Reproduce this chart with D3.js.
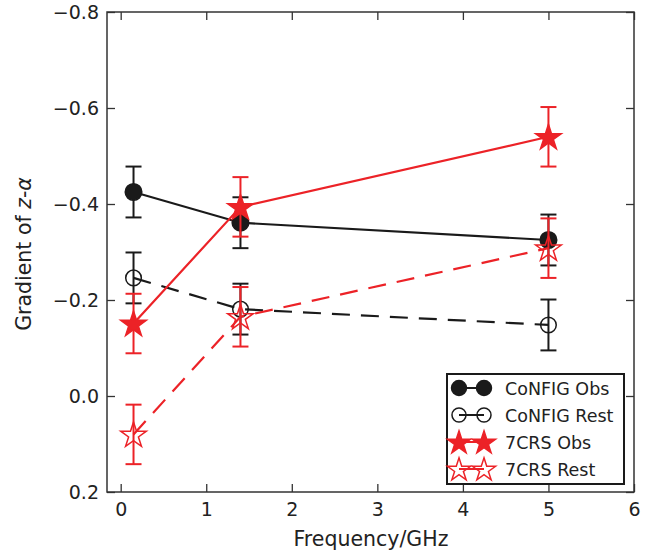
<!DOCTYPE html>
<html lang="en">
<head>
<meta charset="UTF-8">
<title>Gradient of z-alpha</title>
<style>
body { margin: 0; background: #fff; }
text { font-family: "DejaVu Sans", sans-serif; fill: #222; }
</style>
</head>
<body>
<script src="https://d3js.org/d3.v7.min.js"></script>
<script>
// data
var freq = [0.15, 1.4, 5.0];
var configObs = [-0.425, -0.361, -0.325];
var configObsErr = [0.053, 0.053, 0.053];
var configRest = [-0.246, -0.181, -0.148];
var configRestErr = [0.053, 0.053, 0.053];
var crsObs = [-0.151, -0.394, -0.540];
var crsObsErr = [0.062, 0.062, 0.062];
var crsRest = [0.080, -0.165, -0.308];
var crsRestErr = [0.062, 0.062, 0.062];
var xTicks = [0, 1, 2, 3, 4, 5, 6];
var yTicks = [-0.8, -0.6, -0.4, -0.2, 0.0, 0.2];

var width = 654, height = 551;
var red = "#ec2227", black = "#1a1a1a";

var svg = d3.select("body").append("svg")
    .attr("width", width).attr("height", height);

var x = d3.scaleLinear().domain([-0.16, 6]).range([107, 634]);
var y = d3.scaleLinear().domain([-0.8, 0.2]).range([12, 492]);

var fmtY = function(d) { return d3.format(".1f")(d).replace("-", "\u2212"); };

// mirrored inward ticks
var g = svg.append("g");
g.append("g").attr("transform", "translate(0," + y(0.2) + ")")
  .call(d3.axisBottom(x).tickValues(xTicks).tickSize(-8).tickPadding(11).tickFormat(d3.format("d")));
g.append("g").attr("transform", "translate(0," + y(-0.8) + ")")
  .call(d3.axisTop(x).tickValues(xTicks).tickSize(-8).tickFormat(""));
g.append("g").attr("transform", "translate(" + x.range()[0] + ",0)")
  .call(d3.axisLeft(y).tickValues(yTicks).tickSize(-8).tickPadding(8).tickFormat(fmtY));
g.append("g").attr("transform", "translate(" + x.range()[1] + ",0)")
  .call(d3.axisRight(y).tickValues(yTicks).tickSize(-8).tickFormat(""));
g.selectAll(".domain").remove();
g.selectAll(".tick line").attr("stroke", "#333").attr("stroke-width", 1.3);
g.selectAll(".tick text").attr("font-size", 19).attr("fill", "#222")
  .attr("font-family", "DejaVu Sans, sans-serif");

svg.append("rect")
  .attr("x", x.range()[0]).attr("y", y(-0.8))
  .attr("width", x.range()[1] - x.range()[0]).attr("height", y(0.2) - y(-0.8))
  .attr("fill", "none").attr("stroke", "#333").attr("stroke-width", 1.5);

// axis labels
svg.append("text").attr("x", 371).attr("y", 546).attr("text-anchor", "middle")
  .attr("font-size", 20.5).text("Frequency/GHz");
var yl = svg.append("text").attr("transform", "translate(31,254) rotate(-90)")
  .attr("text-anchor", "middle").attr("font-size", 20.5);
yl.append("tspan").text("Gradient of ");
yl.append("tspan").attr("font-style", "italic").text("z");
yl.append("tspan").text("-");
yl.append("tspan").attr("font-style", "italic").text("\u03b1");

var star = d3.symbol().type(d3.symbolStar);

var series = [
  {name: "CoNFIG Obs", vals: configObs, err: configObsErr, color: black, dash: null, marker: "circle", fill: true},
  {name: "CoNFIG Rest", vals: configRest, err: configRestErr, color: black, dash: "18,11", marker: "circle", fill: false},
  {name: "7CRS Obs", vals: crsObs, err: crsObsErr, color: red, dash: null, marker: "star", fill: true},
  {name: "7CRS Rest", vals: crsRest, err: crsRestErr, color: red, dash: "18,11", marker: "star", fill: false}
];

// k scales marker size (legend markers are a bit smaller)
function drawMarker(sel, s, px, py, k) {
  if (s.marker == "circle") {
    sel.append("circle").attr("cx", px).attr("cy", py).attr("r", (s.fill ? 8.3 : 7.8) * k)
      .attr("fill", s.fill ? s.color : "none").attr("stroke", s.color).attr("stroke-width", 1.5);
  } else {
    var r = 13.5 * k;
    sel.append("path").attr("d", star.size(r * r / 0.8908)())
      .attr("transform", "translate(" + px + "," + (py + 1) + ")")
      .attr("fill", s.fill ? s.color : "none").attr("stroke", s.color).attr("stroke-width", 1.5);
  }
}

var line = d3.line().x(function(d) { return x(d[0]); }).y(function(d) { return y(d[1]); });

series.forEach(function(s) {
  var sg = svg.append("g");
  var pts = freq.map(function(f, i) { return [f, s.vals[i], s.err[i]]; });
  // error bars
  pts.forEach(function(p) {
    var px = x(p[0]);
    sg.append("line").attr("x1", px).attr("x2", px)
      .attr("y1", y(p[1] - p[2])).attr("y2", y(p[1] + p[2]))
      .attr("stroke", s.color).attr("stroke-width", 2);
    [p[1] - p[2], p[1] + p[2]].forEach(function(v) {
      sg.append("line").attr("x1", px - 8).attr("x2", px + 8)
        .attr("y1", y(v)).attr("y2", y(v))
        .attr("stroke", s.color).attr("stroke-width", 2);
    });
  });
  sg.append("path").datum(pts).attr("d", line)
    .attr("fill", "none").attr("stroke", s.color).attr("stroke-width", 2.2)
    .attr("stroke-dasharray", s.dash);
  pts.forEach(function(p) { drawMarker(sg, s, x(p[0]), y(p[1]), 1); });
});

// legend
var lg = svg.append("g");
lg.append("rect").attr("x", 447).attr("y", 374).attr("width", 177).attr("height", 110)
  .attr("fill", "#fff").attr("stroke", black).attr("stroke-width", 2);
series.forEach(function(s, i) {
  var ly = 388 + i * 27;
  lg.append("line").attr("x1", 459).attr("x2", 484).attr("y1", ly).attr("y2", ly)
    .attr("stroke", s.color).attr("stroke-width", 2);
  drawMarker(lg, s, 459, ly, 0.9);
  drawMarker(lg, s, 484, ly, 0.9);
  lg.append("text").attr("x", 505).attr("y", ly + 6.5).attr("font-size", 17.5).text(s.name);
});
</script>
</body>
</html>
